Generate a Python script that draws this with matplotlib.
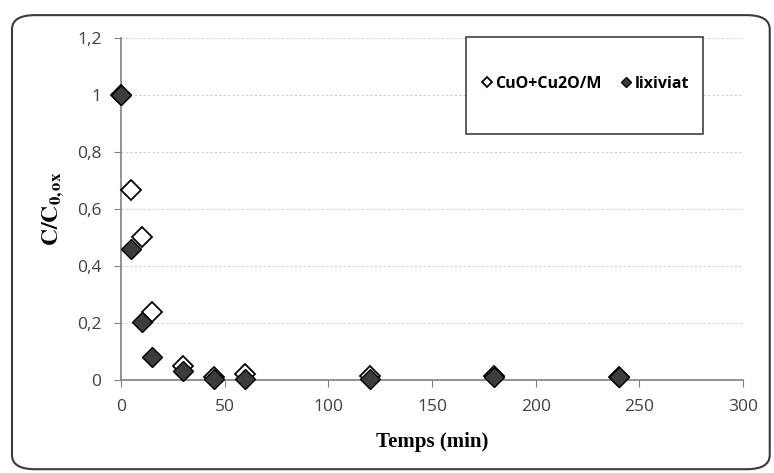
import matplotlib
matplotlib.use("Agg")
import matplotlib.pyplot as plt
from matplotlib.patches import FancyBboxPatch, Rectangle

# data
temps = [0, 5, 10, 15, 30, 45, 60, 120, 180, 240]
cuo_cu2o = [1.0, 0.665, 0.50, 0.24, 0.05, 0.01, 0.02, 0.015, 0.015, 0.01]
lixiviat = [1.0, 0.46, 0.205, 0.08, 0.03, 0.005, 0.005, 0.005, 0.01, 0.01]
xticks = [0, 50, 100, 150, 200, 250, 300]
yticks = [0, 0.2, 0.4, 0.6, 0.8, 1.0, 1.2]
ylabels = ["0", "0,2", "0,4", "0,6", "0,8", "1", "1,2"]

plt.rcParams["mathtext.fontset"] = "stix"

fig = plt.figure(figsize=(7.74, 4.73), dpi=100)
ax = fig.add_axes([0.1563, 0.1966, 0.8037, 0.7231])

# rounded outer frame
frame = FancyBboxPatch((0.0155, 0.008), 0.979, 0.96, boxstyle="round,pad=0,rounding_size=0.03",
                       transform=fig.transFigure, fill=False, edgecolor="#3a3a3a", linewidth=1.5)
fig.patches.append(frame)

ax.plot(temps, cuo_cu2o, linestyle="none", marker="D", markersize=10,
        markerfacecolor="white", markeredgecolor="black", markeredgewidth=1.3,
        label="CuO+Cu2O/M", clip_on=False, zorder=3)
ax.plot(temps, lixiviat, linestyle="none", marker="D", markersize=10,
        markerfacecolor="#3c3c3c", markeredgecolor="black", markeredgewidth=1.0,
        label="lixiviat", clip_on=False, zorder=4)

ax.set_xlim(0, 300)
ax.set_ylim(0, 1.2)
ax.set_xticks(xticks)
ax.set_yticks(yticks)
ax.set_yticklabels(ylabels)
ax.tick_params(direction="out", length=5, color="#808080", labelsize=12.5,
               labelcolor="#404040", pad=9)
for lab in ax.get_xticklabels() + ax.get_yticklabels():
    lab.set_family("Open Sans")

ax.grid(axis="y", linestyle=(0, (2, 2)), color="#d0d0d0", linewidth=0.8)
ax.set_axisbelow(True)
for s in ["top", "right"]:
    ax.spines[s].set_visible(False)
for s in ["left", "bottom"]:
    ax.spines[s].set_color("#808080")
    ax.spines[s].set_linewidth(1.2)

ax.set_xlabel("Temps (min)", family="Liberation Serif", fontweight="bold", fontsize=15, labelpad=12)
ax.set_ylabel(r"$\mathbf{C/C_{0,ox}}$", fontsize=17, labelpad=8)

# legend box drawn separately (Excel style: wide empty padding above and below)
box = Rectangle((0.5547, 0.719), 0.381, 0.284, transform=ax.transAxes, fill=True,
                facecolor="white", edgecolor="#404040", linewidth=1.2, zorder=5, clip_on=False)
ax.add_patch(box)
leg = ax.legend(loc="center", bbox_to_anchor=(0.747, 0.866), ncol=2, frameon=False,
                markerscale=0.55, handlelength=0.6, handletextpad=0.25, columnspacing=1.2,
                borderaxespad=0,
                prop={"family": "Open Sans", "weight": "bold", "size": 11.5})
leg.set_zorder(6)

fig.savefig("out.png", dpi=100)
